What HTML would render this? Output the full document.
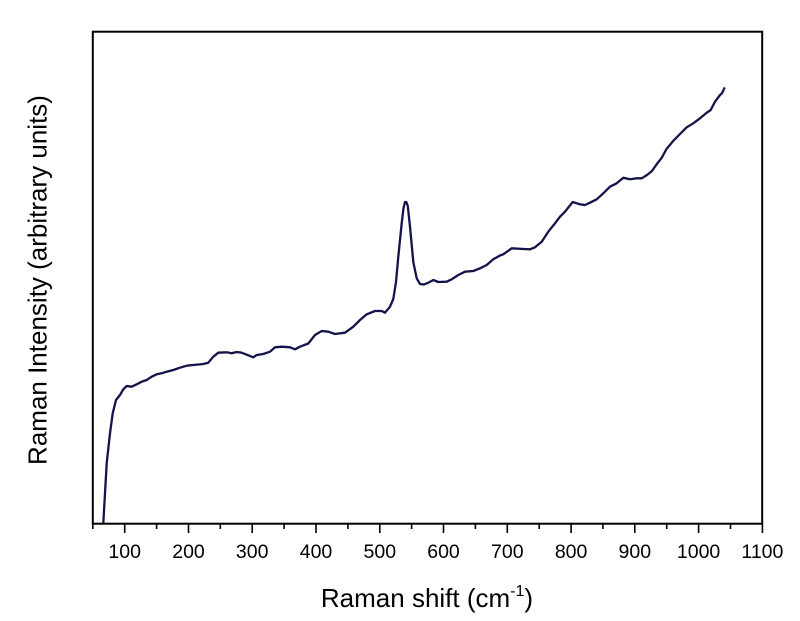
<!DOCTYPE html>
<html>
<head>
<meta charset="utf-8">
<style>
  html, body { margin: 0; padding: 0; background: #ffffff; }
  body { width: 800px; height: 621px; overflow: hidden; }
  svg { display: block; }
  text { font-family: "Liberation Sans", Arial, sans-serif; fill: #000; }
</style>
</head>
<body>
<svg width="800" height="621" viewBox="0 0 800 621" xmlns="http://www.w3.org/2000/svg">
  <rect x="0" y="0" width="800" height="621" fill="#ffffff"/>

  <!-- data curve -->
  <polyline fill="none" stroke="#14144a" stroke-width="2.3" stroke-linejoin="round" stroke-linecap="round" points="
103.3,523.3 106.7,463.3 110,433.3 112.7,413.3 116,400 120,395 123.3,389.3 126.7,386 131.7,386.7 136.7,384.3
141.7,381.7 146.7,380 151.7,376.7 156.7,374.3 161.7,373.3 166.7,371.7 173.3,370 180,367.7 186.7,365.7 193.3,365
203.3,364 208.3,362.7 213.3,356.7 218.3,352.7 226.7,352.3 231.7,353.3 236.7,352 241.7,352.7 246.7,354.7 253.3,357.3
256.7,355 263.3,354 270,351.7 275,347.3 281.7,346.7 290,347.3 295,349.3 300,346.7 308.3,343.5 315,335
321.7,331 328.3,331.7 335,334 345,332.7 353.3,326.7 360,320 366.7,314.3 375,311 381.7,311 385,312.7
390,306.7 393.3,299 396,282 398.3,256.7 401.7,223.3 403.5,208 405,202 406.3,202 407.8,206 410,226.7 413.3,262 416.7,278.3
420,284 424,284.5 428.3,282.7 433.3,280 438.3,282 446.7,281.7 451.7,279.3 458.3,275 465,271.7 473.3,271 480,268.3
486.7,265 493.3,259.3 500,255.5 503.3,254.3 511.7,248.3 523.3,249 530,249.3 535,247.3 541.7,241.7 548.3,231.7
555,223.3 560,216.7 565,211.7 572.7,202 580,204.3 585,205 590,202.7 596.7,199.3 603.3,193.3 610,186.7
616.7,183.3 623.3,177.7 630,179.3 636.7,178.3 641.7,178.3 647,175 652,171 656.7,164.2 661.7,157.8 666.5,149
673.3,140.8 680,134 686.7,127.3 693.3,123.3 700,118.3 706.7,112.7 710.7,110 715,101.7 720,95 722,93.3 724.3,88.3"/>

  <!-- frame -->
  <rect x="92.8" y="31.7" width="669.4" height="492" fill="none" stroke="#000" stroke-width="2"/>

  <!-- x ticks -->
  <g stroke="#000" stroke-width="1.6">
    <line x1="92.8" y1="523.7" x2="92.8" y2="529"/>
    <line x1="156.6" y1="523.7" x2="156.6" y2="529"/>
    <line x1="220.3" y1="523.7" x2="220.3" y2="529"/>
    <line x1="284.1" y1="523.7" x2="284.1" y2="529"/>
    <line x1="347.9" y1="523.7" x2="347.9" y2="529"/>
    <line x1="411.6" y1="523.7" x2="411.6" y2="529"/>
    <line x1="475.4" y1="523.7" x2="475.4" y2="529"/>
    <line x1="539.2" y1="523.7" x2="539.2" y2="529"/>
    <line x1="602.9" y1="523.7" x2="602.9" y2="529"/>
    <line x1="666.7" y1="523.7" x2="666.7" y2="529"/>
    <line x1="730.5" y1="523.7" x2="730.5" y2="529"/>
    <line x1="124.7" y1="523.7" x2="124.7" y2="533"/>
    <line x1="188.5" y1="523.7" x2="188.5" y2="533"/>
    <line x1="252.2" y1="523.7" x2="252.2" y2="533"/>
    <line x1="316.0" y1="523.7" x2="316.0" y2="533"/>
    <line x1="379.8" y1="523.7" x2="379.8" y2="533"/>
    <line x1="443.5" y1="523.7" x2="443.5" y2="533"/>
    <line x1="507.3" y1="523.7" x2="507.3" y2="533"/>
    <line x1="571.1" y1="523.7" x2="571.1" y2="533"/>
    <line x1="634.8" y1="523.7" x2="634.8" y2="533"/>
    <line x1="698.6" y1="523.7" x2="698.6" y2="533"/>
    <line x1="762.4" y1="523.7" x2="762.4" y2="533"/>
  </g>

  <!-- x tick labels -->
  <g font-size="19.5" text-anchor="middle">
    <text x="124.7" y="558">100</text>
    <text x="188.5" y="558">200</text>
    <text x="252.2" y="558">300</text>
    <text x="316.0" y="558">400</text>
    <text x="379.8" y="558">500</text>
    <text x="443.5" y="558">600</text>
    <text x="507.3" y="558">700</text>
    <text x="571.1" y="558">800</text>
    <text x="634.8" y="558">900</text>
    <text x="698.6" y="558">1000</text>
    <text x="762.4" y="558">1100</text>
  </g>

  <!-- axis titles -->
  <text x="427" y="607" font-size="26" text-anchor="middle">Raman shift (cm<tspan font-size="16" dy="-11">-1</tspan><tspan dy="11">)</tspan></text>
  <text transform="translate(46.5,280) rotate(-90)" font-size="26" text-anchor="middle">Raman Intensity (arbitrary units)</text>
</svg>
</body>
</html>
